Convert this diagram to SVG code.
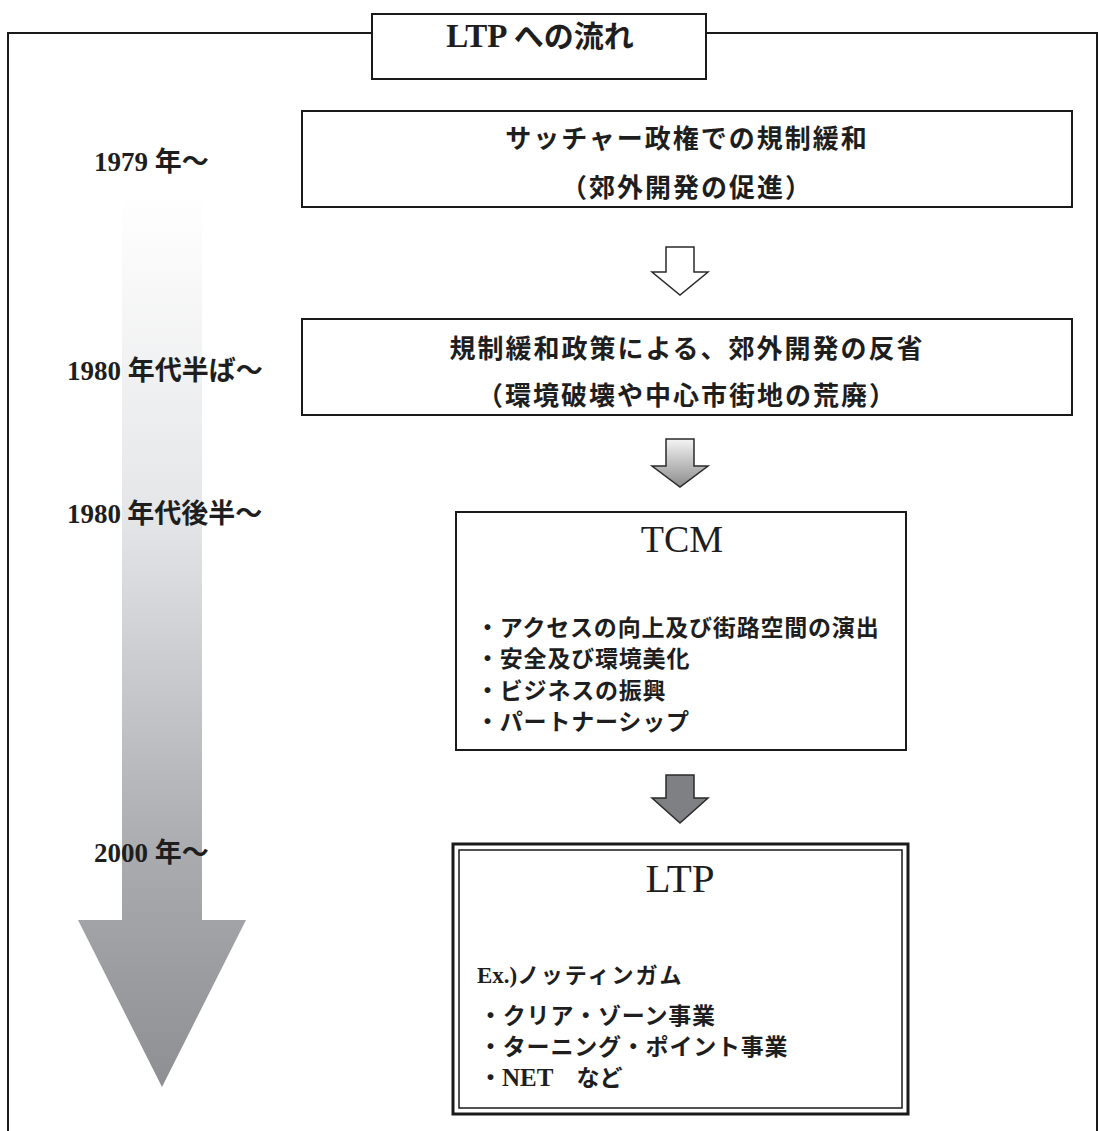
<svg xmlns="http://www.w3.org/2000/svg" width="1100" height="1131" viewBox="0 0 1100 1131">
  <style>
    .box { fill: #ffffff; stroke: #1a1a1a; stroke-width: 2; }
    .jp { font-family: "Noto Sans CJK JP", "Noto Sans", sans-serif; font-weight: bold; fill: #1e1e1e; }
    .serif { font-family: "Liberation Serif", "DejaVu Serif", serif; fill: #1e1e1e; }
    .lbl { font-size: 27px; }
    .mid { text-anchor: middle; }
    .item { font-size: 23px; letter-spacing: 0.8px; }
    .arrow { stroke: #2a2a2a; stroke-width: 1.5; stroke-linejoin: miter; }
  </style>
  <defs>
    <linearGradient id="gTime" gradientUnits="userSpaceOnUse" x1="0" y1="192" x2="0" y2="1087">
      <stop offset="0" stop-color="#ffffff"/>
      <stop offset="0.36" stop-color="#e5e6e8"/>
      <stop offset="0.74" stop-color="#aaabaf"/>
      <stop offset="1" stop-color="#8e8f93"/>
    </linearGradient>
    <linearGradient id="gArrow2" gradientUnits="userSpaceOnUse" x1="0" y1="439" x2="0" y2="487">
      <stop offset="0" stop-color="#f4f4f4"/>
      <stop offset="1" stop-color="#8c8c8c"/>
    </linearGradient>
  </defs>

  <rect width="1100" height="1131" fill="#ffffff"/>

  <!-- outer frame -->
  <g id="frame" fill="none" stroke="#1a1a1a" stroke-width="2">
    <polyline points="372,33 8,33 8,1131"/>
    <polyline points="706,33 1097,33 1097,1131"/>
  </g>

  <!-- timeline arrow -->
  <g id="timeline">
    <polygon points="122,192 202,192 202,920 246,920 162,1087 78,920 122,920" fill="url(#gTime)"/>
  </g>

  <!-- title -->
  <g id="title">
    <rect class="box" x="372" y="14" width="334" height="65"/>
    <text x="540" y="47" class="mid"><tspan class="serif" font-weight="bold" font-size="33">LTP </tspan><tspan class="jp" font-size="30">への流れ</tspan></text>
  </g>

  <!-- year labels -->
  <g id="labels" class="lbl">
    <text x="94" y="171"><tspan class="serif" font-weight="bold">1979 </tspan><tspan class="jp">年～</tspan></text>
    <text x="67" y="380"><tspan class="serif" font-weight="bold">1980 </tspan><tspan class="jp">年代半ば～</tspan></text>
    <text x="67" y="523"><tspan class="serif" font-weight="bold">1980</tspan><tspan class="jp"> 年代後半～</tspan></text>
    <text x="94" y="862"><tspan class="serif" font-weight="bold">2000 </tspan><tspan class="jp">年～</tspan></text>
  </g>

  <!-- node 1 -->
  <g id="node-thatcher">
    <rect class="box" x="302" y="111" width="770" height="96"/>
    <text x="687" y="148" class="jp mid" font-size="26" letter-spacing="2">サッチャー政権での規制緩和</text>
    <text x="687" y="197" class="jp mid" font-size="26" letter-spacing="2">（郊外開発の促進）</text>
  </g>

  <!-- node 2 -->
  <g id="node-reflection">
    <rect class="box" x="302" y="319" width="770" height="96"/>
    <text x="687" y="358" class="jp mid" font-size="26" letter-spacing="2">規制緩和政策による、郊外開発の反省</text>
    <text x="687" y="405" class="jp mid" font-size="26" letter-spacing="2">（環境破壊や中心市街地の荒廃）</text>
  </g>

  <!-- node TCM -->
  <g id="node-tcm">
    <rect class="box" x="456" y="512" width="450" height="238"/>
    <text x="682" y="552" class="serif mid" font-size="38">TCM</text>
    <text x="476" y="636" class="jp item">・アクセスの向上及び街路空間の演出</text>
    <text x="476" y="667" class="jp item">・安全及び環境美化</text>
    <text x="476" y="699" class="jp item">・ビジネスの振興</text>
    <text x="476" y="730" class="jp item">・パートナーシップ</text>
  </g>

  <!-- node LTP -->
  <g id="node-ltp">
    <rect x="453" y="844" width="455" height="270" fill="#ffffff" stroke="#1a1a1a" stroke-width="3"/>
    <rect x="459" y="850" width="443" height="258" fill="none" stroke="#1a1a1a" stroke-width="1.5"/>
    <text x="680" y="892" class="serif mid" font-size="41">LTP</text>
    <text x="477" y="983"><tspan class="serif" font-weight="bold" font-size="23">Ex.)</tspan><tspan class="jp" font-size="22" letter-spacing="2">ノッティンガム</tspan></text>
    <text x="479" y="1024" class="jp item">・クリア・ゾーン事業</text>
    <text x="479" y="1055" class="jp item">・ターニング・ポイント事業</text>
    <text x="479" y="1086" font-size="23"><tspan class="jp">・</tspan><tspan class="serif" font-weight="bold" font-size="25">NET</tspan><tspan class="jp">　など</tspan></text>
  </g>

  <!-- connectors -->
  <g id="connectors">
    <polygon class="arrow" fill="#ffffff" points="666,247 694,247 694,272 708,272 680,295 652,272 666,272"/>
    <polygon class="arrow" fill="url(#gArrow2)" points="666,439 694,439 694,466 708,466 680,487 652,466 666,466"/>
    <polygon class="arrow" fill="#7f8083" points="666,775 694,775 694,798 708,798 680,823 652,798 666,798"/>
  </g>
</svg>
